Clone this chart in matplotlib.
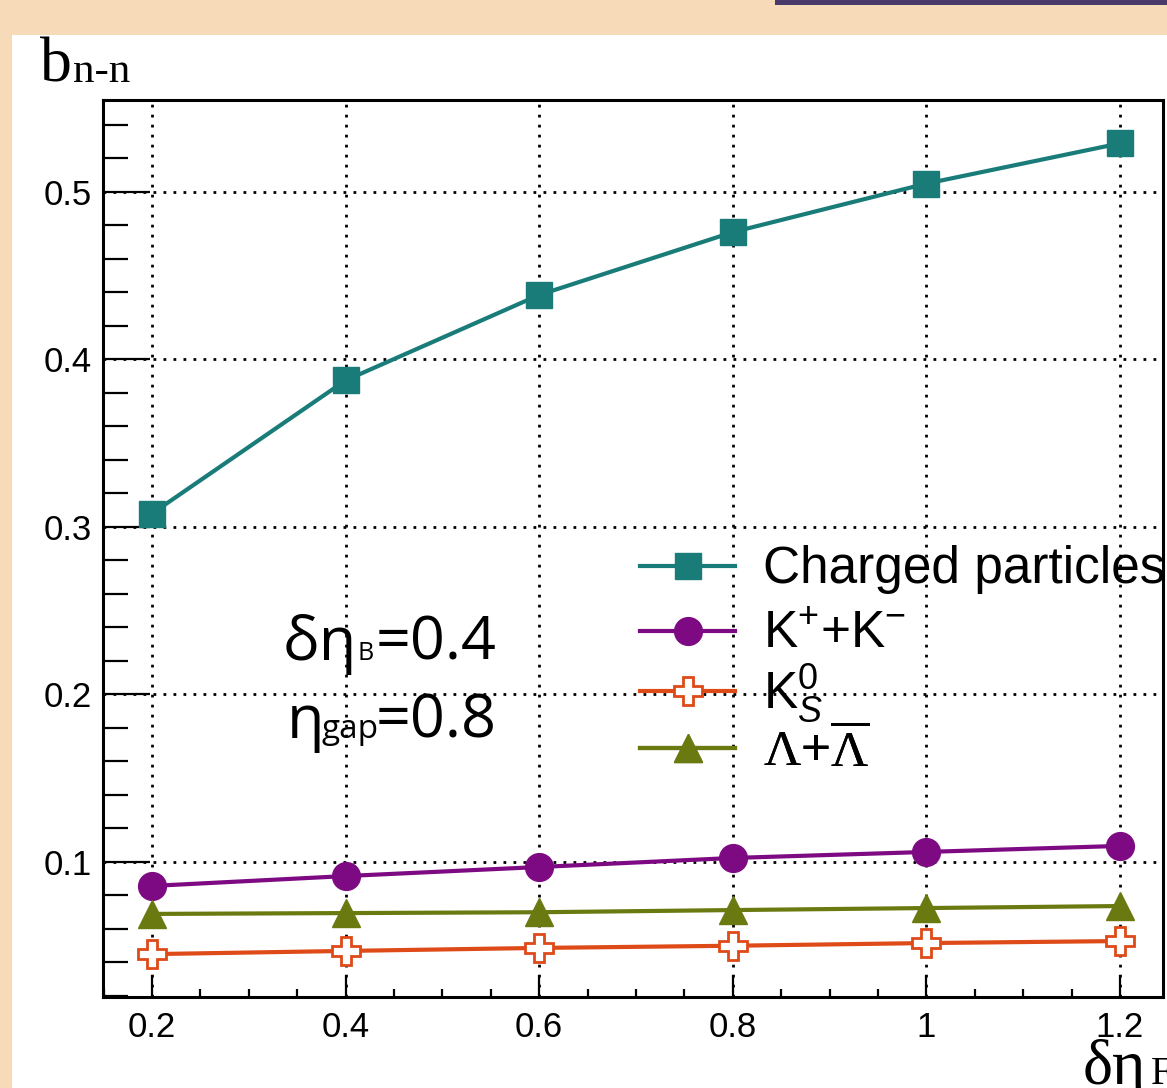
import matplotlib
matplotlib.use("Agg")
import matplotlib.pyplot as plt
from matplotlib.patches import Rectangle

# data
deta_f = [0.2, 0.4, 0.6, 0.8, 1.0, 1.2]
charged = [0.308, 0.3875, 0.4385, 0.476, 0.505, 0.529]
kaons = [0.0857, 0.0916, 0.097, 0.1024, 0.106, 0.1096]
k0s = [0.045, 0.0469, 0.0487, 0.050, 0.0516, 0.0528]
lambdas = [0.069, 0.0695, 0.070, 0.0713, 0.0725, 0.0737]

labels = ["Charged particles", r"K$^{+}$+K$^{-}$", r"K$^{0}_{S}$",
          r"$\mathsf{\Lambda}$+$\overline{\mathsf{\Lambda}}$"]
x_ticks = [0.2, 0.4, 0.6, 0.8, 1.0, 1.2]
x_ticklabels = ["0.2", "0.4", "0.6", "0.8", "1", "1.2"]
y_ticks = [0.1, 0.2, 0.3, 0.4, 0.5]

plt.rcParams['mathtext.fontset'] = 'custom'
plt.rcParams['mathtext.rm'] = 'Liberation Sans'
plt.rcParams['mathtext.it'] = 'Liberation Sans:italic'
plt.rcParams['mathtext.sf'] = 'Liberation Serif'

W, H = 1167, 1088


def px(x, y):
    # image pixel -> figure fraction
    return x / W, 1 - y / H


fig = plt.figure(figsize=(W / 100, H / 100), dpi=100)
fig.patch.set_facecolor('#f7dab7')
fig.patches.append(Rectangle(px(12, 1088), 1, (1088 - 35) / H, transform=fig.transFigure,
                             facecolor='white', edgecolor='none', zorder=-10))
fig.patches.append(Rectangle(px(775, 5), 1, 5 / H, transform=fig.transFigure,
                             facecolor='#4a3a6c', edgecolor='none', zorder=-10))

l, b = px(103, 997)
ax = fig.add_axes([l, b, (1163 - 103) / W, (997 - 100) / H])
ax.set_facecolor('white')

ax.plot(deta_f, charged, color='#197c79', lw=3, marker='s', ms=19, label=labels[0])
ax.plot(deta_f, kaons, color='#7d0a82', lw=3, marker='o', ms=20, label=labels[1])
ax.plot(deta_f, k0s, color='#de4a18', lw=3, marker='P', ms=20, mfc='white',
        mec='#de4a18', mew=2, label=labels[2])
ax.plot(deta_f, lambdas, color='#6b7a10', lw=3, marker='^', ms=20, label=labels[3])

ax.set_xlim(0.1494, 1.2445)
ax.set_ylim(0.0194, 0.5549)
ax.set_xticks(x_ticks)
ax.set_xticklabels(x_ticklabels)
ax.set_yticks(y_ticks)
ax.set_xticks([t / 100 for t in range(15, 125, 5)], minor=True)
ax.set_yticks([t / 100 for t in range(2, 56, 2)], minor=True)

ax.grid(True, which='major', color='black', lw=2.0, ls=(0, (1, 2.6)))
ax.tick_params(axis='both', which='both', direction='in', width=1.6, colors='black',
               labelsize=25, top=False, right=False)
ax.tick_params(axis='y', which='major', length=34, pad=8)
ax.tick_params(axis='y', which='minor', length=18)
ax.tick_params(axis='x', which='major', length=16, pad=10)
ax.tick_params(axis='x', which='minor', length=6)
for lab in ax.get_xticklabels() + ax.get_yticklabels():
    lab.set_family('Liberation Sans')
for s in ax.spines.values():
    s.set_linewidth(2.2)

# one legend per row so the rows sit where the reference has them
handles, labs = ax.get_legend_handles_labels()
row_y = [570, 635, 694, 752]
for h, lb, y in zip(handles, labs, row_y):
    lg = ax.legend([h], [lb], loc='center left', bbox_to_anchor=px(640, y),
                   bbox_transform=fig.transFigure, frameon=False,
                   prop={'family': 'Liberation Sans', 'size': 37},
                   handlelength=1.85, handletextpad=0.55, borderpad=0, borderaxespad=0)
    ax.add_artist(lg)

# y axis title
fig.text(*px(40, 82), "b", family='Liberation Serif', fontsize=46, va='baseline')
fig.text(*px(73, 82), "n-n", family='Liberation Serif', fontsize=31, va='baseline')
# x axis title (cut at the right edge)
fig.text(*px(1083, 1084), "δη", family='Liberation Serif', fontsize=46, va='baseline')
fig.text(*px(1151, 1084), "F", family='Liberation Serif', fontsize=28, va='baseline')

# annotation
fig.text(*px(283, 660), "δη", family='Open Sans', fontsize=44, va='baseline')
fig.text(*px(358, 660), "B", family='Open Sans', fontsize=18, va='baseline')
fig.text(*px(376, 660), "=0.4", family='Open Sans', fontsize=44, va='baseline')
fig.text(*px(287, 738), "η", family='Open Sans', fontsize=44, va='baseline')
fig.text(*px(321, 738), "gap", family='Open Sans', fontsize=24, va='baseline')
fig.text(*px(376, 738), "=0.8", family='Open Sans', fontsize=44, va='baseline')

fig.savefig("out.png", dpi=100, facecolor=fig.get_facecolor())
